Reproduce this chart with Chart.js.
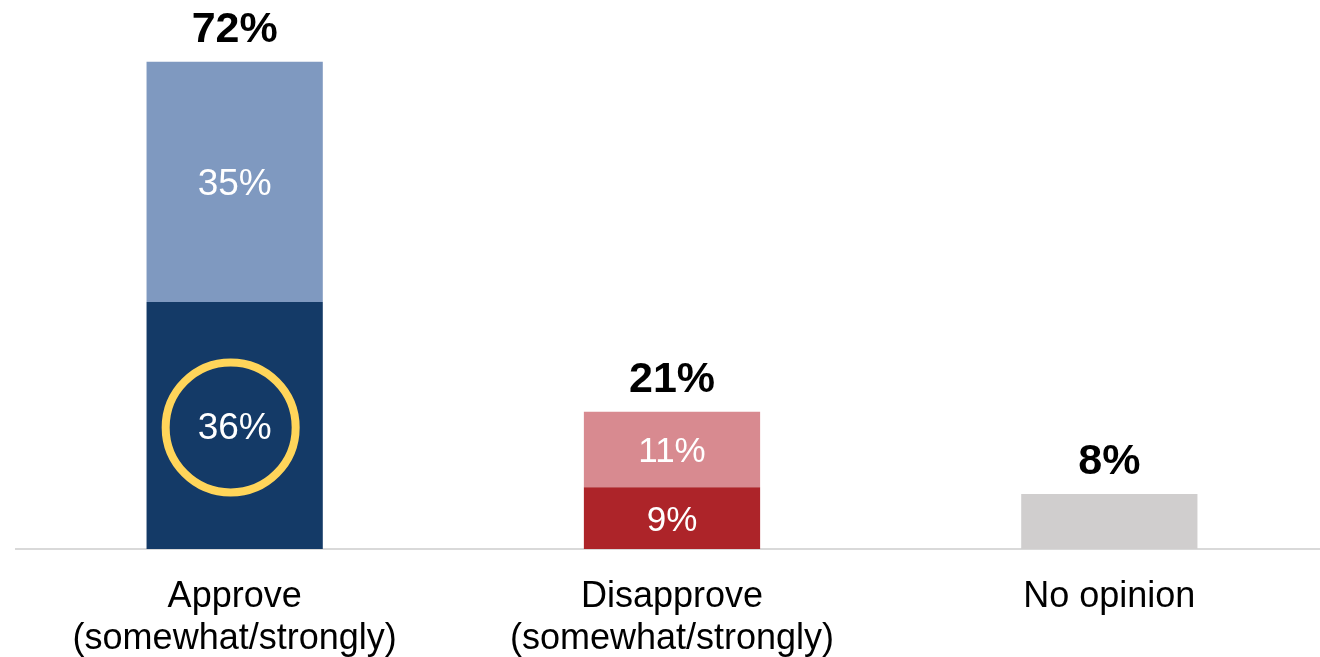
<!DOCTYPE html>
<html>
<head>
<meta charset="utf-8">
<title>Approval</title>
<script src="https://cdn.jsdelivr.net/npm/chart.js@4.4.1/dist/chart.umd.min.js"></script>
<style>
  html, body { margin: 0; padding: 0; background: #fff; overflow: hidden; }
  #wrap { width: 1328px; height: 657px; position: relative; }
</style>
</head>
<body>
<div id="wrap"><canvas id="chartApproval"></canvas></div>
<script>
// ── Data ────────────────────────────────────────────────
const categories = [
  ['Approve', '(somewhat/strongly)'],
  ['Disapprove', '(somewhat/strongly)'],
  'No opinion'
];
const strongly  = [36, 9, null];
const somewhat  = [35, 11, null];
const noOpinion = [null, null, 8];
const totals    = [72, 21, 8];

const FONT = "'Liberation Sans', Arial, Helvetica, sans-serif";

// segment labels inside the bars + bold totals on top
const barLabels = {
  id: 'barLabels',
  afterDatasetsDraw(chart) {
    const { ctx } = chart;
    ctx.save();

    // highlight ring round the "strongly approve" segment
    const ring = chart.getDatasetMeta(0).data[0];
    if (ring) {
      ctx.beginPath();
      ctx.arc(ring.x - 4, (ring.y + ring.base) / 2 + 2, 65, 0, Math.PI * 2);
      ctx.lineWidth = 8;
      ctx.strokeStyle = '#FFD55A';
      ctx.stroke();
    }

    ctx.textAlign = 'center';
    ctx.textBaseline = 'middle';
    ctx.fillStyle = '#ffffff';
    chart.data.datasets.forEach((ds, di) => {
      if (!ds.inner) return;
      const meta = chart.getDatasetMeta(di);
      meta.data.forEach((el, i) => {
        const v = ds.data[i];
        if (v == null) return;
        ctx.font = (i === 0 ? 37 : 35) + 'px ' + FONT;
        ctx.fillText(v + '%', el.x, (el.y + el.base) / 2 + 3);
      });
    });

    // totals above each stack
    ctx.fillStyle = '#000000';
    ctx.textBaseline = 'alphabetic';
    ctx.font = 'bold 43px ' + FONT;
    totals.forEach((t, i) => {
      let top = null, x = null;
      chart.data.datasets.forEach((ds, di) => {
        if (ds.data[i] == null) return;
        const el = chart.getDatasetMeta(di).data[i];
        if (top === null || el.y < top) { top = el.y; x = el.x; }
      });
      if (top !== null) ctx.fillText(t + '%', x, top - 20);
    });
    ctx.restore();
  }
};

new Chart(document.getElementById('chartApproval'), {
  type: 'bar',
  data: {
    labels: categories,
    datasets: [
      {
        label: 'Strongly',
        data: strongly,
        inner: true,
        backgroundColor: ['#143A67', '#AD2429', '#143A67']
      },
      {
        label: 'Somewhat',
        data: somewhat,
        inner: true,
        backgroundColor: ['#7F99C0', '#D88A90', '#7F99C0']
      },
      {
        label: 'No opinion',
        data: noOpinion,
        inner: false,
        backgroundColor: '#D0CECE'
      }
    ]
  },
  options: {
    responsive: true,
    maintainAspectRatio: false,
    animation: false,
    barPercentage: 0.403,
    categoryPercentage: 1,
    layout: { padding: { left: 16, right: 0, top: 0, bottom: 0 } },
    scales: {
      x: {
        stacked: true,
        grid: { display: false, drawTicks: false },
        border: { color: '#D9D9D9', width: 2 },
        ticks: {
          color: '#000000',
          font: { family: FONT, size: 36, lineHeight: 1.17 },
          padding: 27,
          maxRotation: 0,
          autoSkip: false
        },
        afterFit: (scale) => { scale.height = 108; }
      },
      y: {
        stacked: true,
        display: false,
        min: 0,
        max: 80
      }
    },
    plugins: {
      legend: { display: false },
      tooltip: { enabled: false }
    }
  },
  plugins: [barLabels]
});
</script>
</body>
</html>
